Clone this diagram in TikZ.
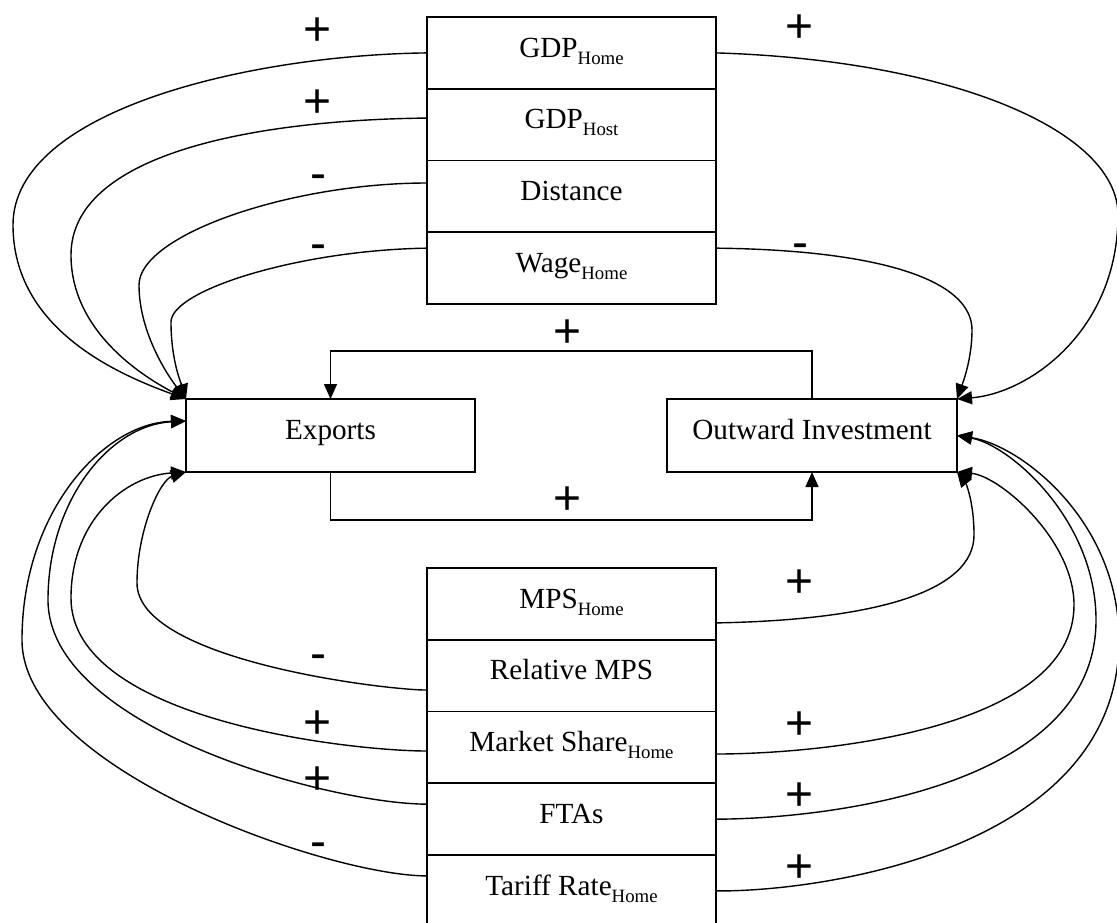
\documentclass[tikz,border=0pt]{standalone}
\usepackage{fontspec}
\setmainfont{Liberation Serif}
\newfontfamily\signfont{Liberation Sans}
\usetikzlibrary{positioning,arrows.meta,calc}
\newcommand{\subx}[1]{\raisebox{-3.5pt}{\fontsize{9.4}{10}\selectfont #1}}

\begin{document}
\begin{tikzpicture}[x=0.5pt, y=-0.5pt,
  cell/.style={draw, line width=0.8pt, minimum width=144.5pt, minimum height=35.875pt,
    inner sep=0pt, outer sep=0pt, text height=9.5pt, text depth=5.25pt,
    font=\fontsize{14.6}{17}\selectfont},
  flow/.style={cell, minimum height=36.5pt},
  arr/.style={line width=0.7pt, -{Triangle[length=7.5pt,width=6.5pt]}},
  sgn/.style={anchor=base, inner sep=0pt, font=\signfont\fontsize{24}{24}\selectfont}]
\useasboundingbox (0,0) rectangle (1117,922);

% Determinants above
\node[cell] (gdph) at (571.5,52.9) {GDP\subx{Home}};
\node[cell, below=0pt of gdph] (gdpf) {GDP\subx{Host}};
\node[cell, below=0pt of gdpf] (dist) {Distance};
\node[cell, below=0pt of dist] (wage) {Wage\subx{Home}};

% Trade and investment
\node[flow] (exports) at (330.5,435.5) {Exports};
\node[flow, minimum width=145pt] (outinv) at (812,435.5) {Outward Investment};

% Determinants below
\node[cell] (mps) at (571.5,603.9) {MPS\subx{Home}};
\node[cell, below=0pt of mps] (relmps) {Relative MPS};
\node[cell, below=0pt of relmps] (mshare) {Market Share\subx{Home}};
\node[cell, below=0pt of mshare] (ftas) {FTAs};
\node[cell, below=0pt of ftas] (tariff) {Tariff Rate\subx{Home}};

% Top left: into Exports
\draw[arr] (gdph.west) .. controls (250,55) and (13,110) .. (13,225)
  .. controls (13,330) and (120,375) .. (exports.north west);
\draw[arr] ([yshift=3.3pt]gdpf.west) .. controls (250,120) and (71,155) .. (71,255)
  .. controls (71,330) and (140,375) .. (exports.north west);
\draw[arr] ([yshift=6.7pt]dist.west) .. controls (290,183) and (139,235) .. (139,285)
  .. controls (139,330) and (165,372) .. (exports.north west);
\draw[arr] ([yshift=10pt]wage.west) .. controls (300,250) and (171,290) .. (171,322)
  .. controls (171,360) and (181,383) .. (exports.north west);

% Top right: into Outward Investment
\draw[arr] (gdph.east) .. controls (950,60) and (1118,130) .. (1118,215)
  .. controls (1118,330) and (1030,393) .. (outinv.north east);
\draw[arr] ([yshift=10pt]wage.east) .. controls (880,250) and (972,280) .. (972,330)
  .. controls (972,360) and (962,385) .. (outinv.north east);

% Bottom left: into Exports
\draw[arr] ([yshift=-7.2pt]relmps.west) .. controls (384,690) and (137,660) .. (137,583)
  .. controls (137,530) and (160,480) .. (exports.south west);
\draw[arr] ([yshift=-1.8pt]mshare.west) .. controls (350,751) and (71,720) .. (71,598)
  .. controls (71,520) and (125,476) .. (exports.south west);
\draw[arr] ([yshift=7.5pt]ftas.west) .. controls (330,804) and (48,728) .. (48,600)
  .. controls (48,500) and (110,425) .. ([yshift=7.25pt]exports.west);
\draw[arr] ([yshift=7.5pt]tariff.west) .. controls (330,876) and (22,770) .. (22,640)
  .. controls (22,510) and (105,423) .. ([yshift=7.25pt]exports.west);

% Bottom right: into Outward Investment
\draw[arr] ([yshift=-9.5pt]mps.east) .. controls (880,620) and (974,590) .. (974,535)
  .. controls (974,500) and (965,482) .. (outinv.south east);
\draw[arr] ([yshift=-3.3pt]mshare.east) .. controls (820,754) and (1074,730) .. (1074,605)
  .. controls (1074,540) and (1000,476) .. (outinv.south east);
\draw[arr] (ftas.east) .. controls (820,819) and (1096,790) .. (1096,620)
  .. controls (1096,520) and (1010,445) .. (outinv.east);
\draw[arr] (tariff.east) .. controls (820,892) and (1119,850) .. (1119,640)
  .. controls (1119,520) and (1020,445) .. (outinv.east);

% Feedback between Exports and Outward Investment
\draw[arr] (outinv.north) -- ++(0,-48) -| (exports.north);
\draw[arr] (exports.south) -- ++(0,48) -| (outinv.south);

% Signs
\foreach \x/\y/\s [count=\i] in {318/45/+, 318/117/+, 318/189/-, 318/259.6/-,
    800/42/+, 800/258.6/-, 568/347/+, 568/514/+,
    318/669.6/-, 318/738/+, 318/794/+, 318/857.6/-,
    800/597/+, 800/739/+, 800/810/+, 800/882/+}
  \node[sgn] (sg\i) at (\x,\y) {\s};
\end{tikzpicture}
\end{document}
